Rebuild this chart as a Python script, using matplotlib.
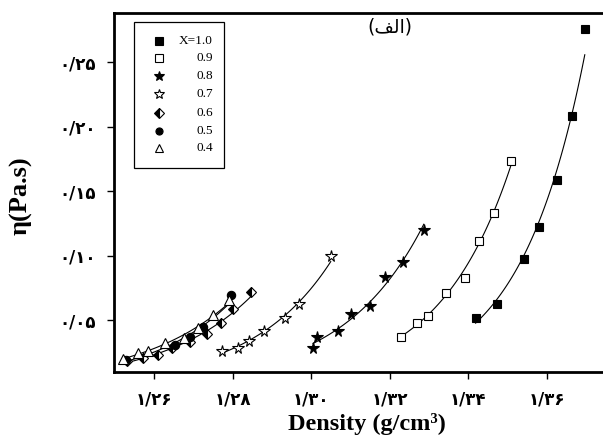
import numpy as np
import matplotlib
matplotlib.use('Agg')
import matplotlib.pyplot as plt
from matplotlib.patches import Rectangle

# density (g/cm3) and viscosity (Pa.s)
d10 = [1.3419, 1.3473, 1.3541, 1.3580, 1.3625, 1.3664, 1.3697]
v10 = [0.0516, 0.0624, 0.0973, 0.1221, 0.1585, 0.2081, 0.2756]

d09 = [1.3228, 1.3269, 1.3297, 1.3343, 1.3391, 1.3427, 1.3465, 1.3508]
v09 = [0.0368, 0.0477, 0.0531, 0.0709, 0.0826, 0.1112, 0.1329, 0.1733]

d08 = [1.3005, 1.3015, 1.3068, 1.3101, 1.3150, 1.3188, 1.3234, 1.3287]
v08 = [0.0283, 0.0368, 0.0415, 0.0547, 0.0609, 0.0833, 0.0950, 0.1198]

d07 = [1.2773, 1.2814, 1.2842, 1.2880, 1.2933, 1.2969, 1.3050]
v07 = [0.0260, 0.0283, 0.0337, 0.0415, 0.0516, 0.0624, 0.0996]

d06 = [1.2531, 1.2572, 1.2610, 1.2646, 1.2692, 1.2735, 1.2770, 1.2801, 1.2847]
v06 = [0.0182, 0.0205, 0.0229, 0.0283, 0.0329, 0.0391, 0.0477, 0.0585, 0.0717]

d05 = [1.2529, 1.2653, 1.2692, 1.2725, 1.2796]
v05 = [0.0190, 0.0306, 0.0368, 0.0446, 0.0694]

d04 = [1.2521, 1.2559, 1.2585, 1.2628, 1.2676, 1.2712, 1.2750, 1.2791]
v04 = [0.0198, 0.0244, 0.0260, 0.0322, 0.0360, 0.0438, 0.0539, 0.0655]

labels = ['X=1.0', '0.9', '0.8', '0.7', '0.6', '0.5', '0.4']
xticks = [1.26, 1.28, 1.30, 1.32, 1.34, 1.36]
xticklabels = ['۱/۲۶', '۱/۲۸', '۱/۳۰', '۱/۳۲', '۱/۳۴', '۱/۳۶']
yticks = [0.05, 0.10, 0.15, 0.20, 0.25]
yticklabels = ['۰/۰۵', '۰/۱۰', '۰/۱۵', '۰/۲۰', '۰/۲۵']

series = [(d10, v10), (d09, v09), (d08, v08), (d07, v07),
          (d06, v06), (d05, v05), (d04, v04)]
styles = [dict(marker='s', ms=6, mfc='black', mec='black'),
          dict(marker='s', ms=6, mfc='white', mec='black'),
          dict(marker='*', ms=8.5, mfc='black', mec='black'),
          dict(marker='*', ms=8.5, mfc='white', mec='black'),
          dict(marker='D', ms=5.5, mfc='black', mec='black',
               fillstyle='left', markerfacecoloralt='white'),
          dict(marker='o', ms=6, mfc='black', mec='black'),
          dict(marker='^', ms=6.5, mfc='white', mec='black')]

fig = plt.figure(figsize=(6.03, 4.41), dpi=100)
ax = fig.add_axes([0.189, 0.1565, 0.814, 0.814])

for (d, v), st in zip(series, styles):
    d = np.array(d)
    v = np.array(v)
    # exponential fit through each series
    b, a = np.polyfit(d, np.log(v), 1)
    xs = np.linspace(d.min(), d.max(), 100)
    ax.plot(xs, np.exp(a + b * xs), color='black', lw=0.8, zorder=2)
    ax.plot(d, v, ls='none', mew=0.8, zorder=3, **st)

ax.set_xlim(1.2498, 1.3748)
ax.set_ylim(0.0097, 0.288)
ax.set_xticks(xticks)
ax.set_xticklabels(xticklabels, fontsize=12, fontweight='bold', family='DejaVu Sans')
ax.set_yticks(yticks)
ax.set_yticklabels(yticklabels, fontsize=12, fontweight='bold', family='DejaVu Sans')
ax.tick_params(direction='out', length=5, width=1, pad=8)
ax.spines['top'].set_linewidth(2)
ax.spines['left'].set_linewidth(2)
ax.spines['bottom'].set_linewidth(2)
ax.spines['right'].set_visible(False)

ax.set_xlabel('Density (g/cm³)', fontsize=17.5, fontweight='bold',
              family='Liberation Serif')
ax.xaxis.set_label_coords(0.515, -0.115)
ax.set_ylabel('η(Pa.s)', fontsize=19, fontweight='bold',
              family='Liberation Serif')
ax.yaxis.set_label_coords(-0.165, 0.49)

# (الف) written in visual order with presentation forms
ax.text(0.562, 0.962, '(\ufed2\ufedf\u0627)', transform=ax.transAxes,
        ha='center', va='center', fontsize=13.5, family='DejaVu Sans')

# legend box drawn by hand so labels can be right aligned
ax.add_patch(Rectangle((0.0407, 0.569), 0.183, 0.406, transform=ax.transAxes,
                       fill=False, lw=0.9, ec='black', zorder=4))
rows = [0.922, 0.875, 0.825, 0.775, 0.722, 0.672, 0.625]
for yy, lab, st in zip(rows, labels, styles):
    s = dict(st)
    s['ms'] = s['ms'] * 0.85
    ax.plot([0.0916], [yy], transform=ax.transAxes, ls='none', mew=0.8,
            clip_on=False, zorder=5, **s)
    ax.text(0.2016, yy, lab, transform=ax.transAxes, ha='right', va='center',
            fontsize=9.5, family='Liberation Serif', zorder=5)

plt.savefig('out.png', dpi=100)
